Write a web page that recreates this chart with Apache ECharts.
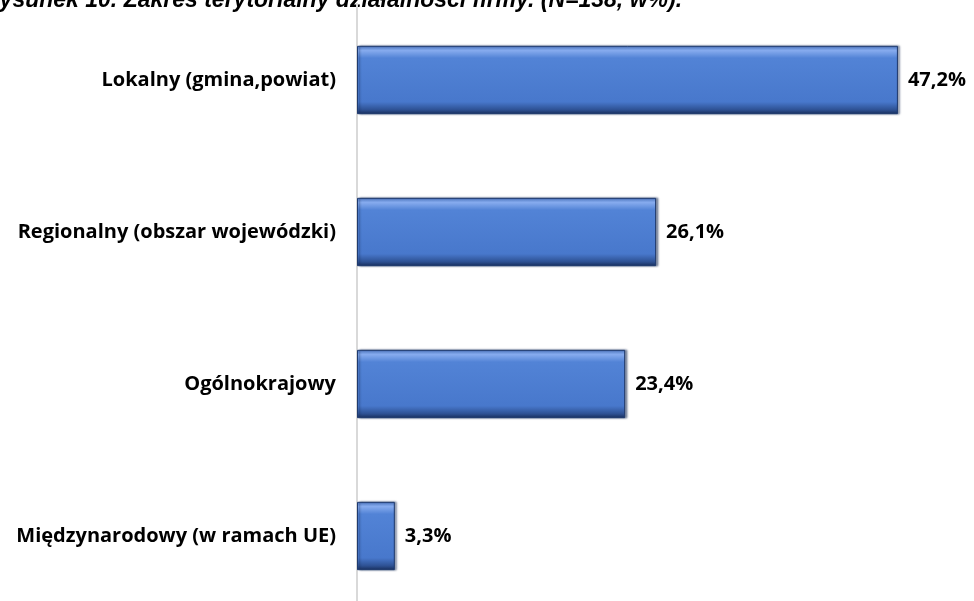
<!DOCTYPE html>
<html>
<head>
<meta charset="utf-8">
<script src="https://cdn.jsdelivr.net/npm/echarts@6/dist/echarts.min.js"></script>
<style>
  html, body { margin: 0; padding: 0; background: #fff; }
  #chart { width: 974px; height: 601px; }
</style>
</head>
<body>
<div id="chart"></div>
<script>
// dane z wykresu
const categories = ['Lokalny (gmina,powiat)', 'Regionalny (obszar wojewódzki)', 'Ogólnokrajowy', 'Międzynarodowy (w ramach UE)'];
const values = [47.2, 26.1, 23.4, 3.3];
const titleText = 'Rysunek 10. Zakres terytorialny działalności firmy. (N=138, w%).';

const chart = echarts.init(document.getElementById('chart'));

const barColor = new echarts.graphic.LinearGradient(0, 0, 0, 1, [
    { offset: 0, color: '#5079c4' },
    { offset: 0.07, color: '#86abee' },
    { offset: 0.18, color: '#5283d6' },
    { offset: 0.82, color: '#4878cc' },
    { offset: 0.93, color: '#2f5396' },
    { offset: 1, color: '#1b3260' }
]);

const option = {
    animation: false,
    graphic: [{
        type: 'text',
        x: -17,
        y: 12,
        style: {
            text: titleText,
            font: 'italic bold 23px "Liberation Sans", Arial',
            fill: '#000',
            verticalAlign: 'bottom'
        }
    }],
    grid: { left: 357, width: 573, top: 4, height: 608, outerBoundsMode: 'none' },
    xAxis: {
        type: 'value',
        min: 0,
        max: 50,
        show: false
    },
    yAxis: {
        type: 'category',
        data: categories,
        inverse: true,
        axisLine: { show: true, lineStyle: { color: '#d9d9d9', width: 2 } },
        axisTick: { show: false },
        axisLabel: {
            margin: 21,
            color: '#000',
            fontFamily: 'Open Sans',
            fontWeight: 'bold',
            fontSize: 20
        }
    },
    series: [{
        type: 'bar',
        data: values,
        barWidth: '45%',
        itemStyle: {
            color: barColor,
            borderColor: '#1f3a6e',
            borderWidth: 1,
            shadowColor: 'rgba(20,40,80,0.5)',
            shadowOffsetX: 2,
            shadowBlur: 2
        },
        label: {
            show: true,
            position: 'right',
            distance: 10,
            color: '#000',
            fontFamily: 'Open Sans',
            fontWeight: 'bold',
            fontSize: 20,
            formatter: function (p) {
                return p.value.toFixed(1).replace('.', ',') + '%';
            }
        }
    }]
};

chart.setOption(option);
</script>
</body>
</html>
